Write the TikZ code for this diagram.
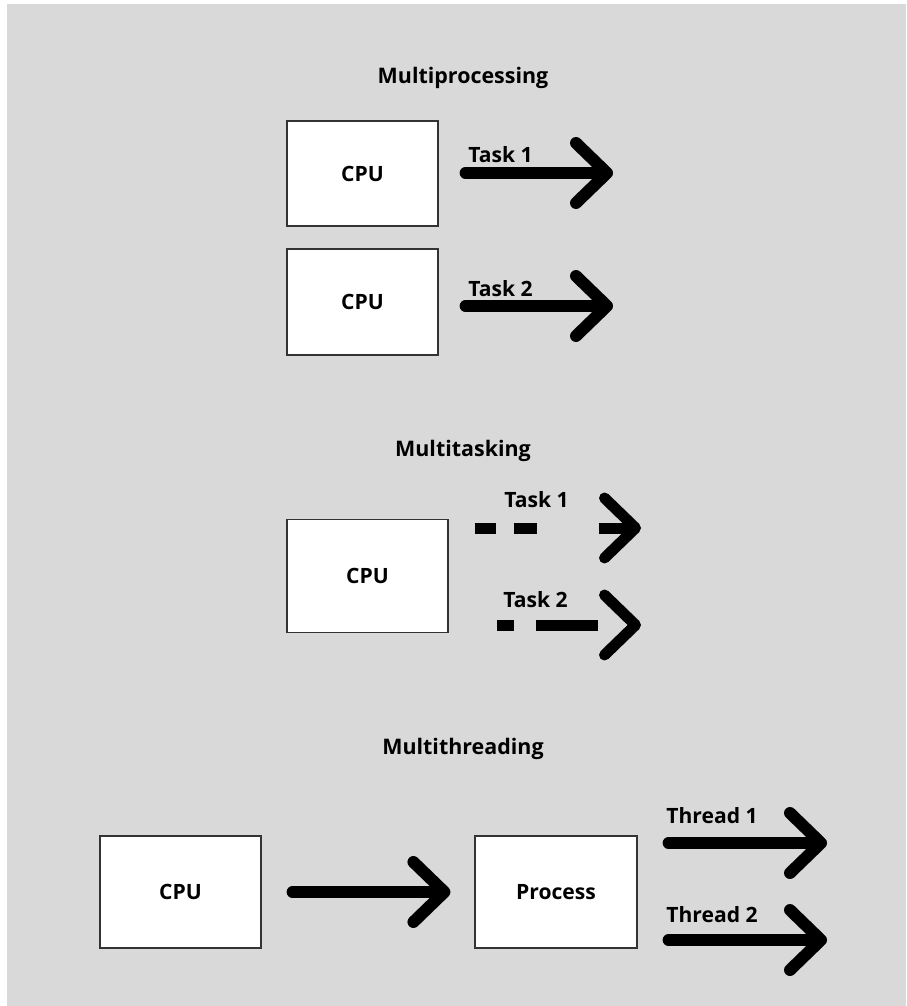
\documentclass[tikz,border=0pt]{standalone}
\usepackage{fontspec}
\setmainfont{Open Sans}
\usetikzlibrary{arrows.meta}
\definecolor{fondoGris}{HTML}{D9D9D9}
\definecolor{bordeCaja}{HTML}{333333}

\tikzset{
    caja/.style={
        draw=bordeCaja,
        fill=white,
        line width=0.7pt,
        inner sep=0pt,
        font=\fontsize{12}{14}\selectfont\bfseries
    },
    titulo/.style={
        inner sep=0pt,
        font=\fontsize{12.2}{15}\selectfont\bfseries
    },
    etiqueta/.style={
        anchor=west,
        inner sep=0pt,
        font=\fontsize{12}{14}\selectfont\bfseries
    },
    flecha/.style={
        line width=0.24cm,
        line cap=round,
        -{Straight Barb[length=0.62cm, width=1.2cm, round]}
    },
    flechapunteada/.style={
        line width=0.22cm,
        line cap=butt,
        -{Straight Barb[length=0.62cm, width=1.2cm, round]}
    }
}

\begin{document}
\begin{tikzpicture}[x=0.02cm, y=-0.02cm]

        % Contenedor principal
        \useasboundingbox (0,0) rectangle (906,1006);
        \fill[fondoGris] (7,4) rectangle (906,1006);

        % =====================================================
        % MULTIPROCESSING
        % =====================================================

        \node[titulo] (tituloMP) at (463,78) {Multiprocessing};

        % CPUs
        \node[
            caja,
            minimum width=3.02cm,
            minimum height=2.1cm
        ] (mpCPUa) at (362.5,173.5) {CPU};

        \node[
            caja,
            minimum width=3.02cm,
            minimum height=2.12cm
        ] (mpCPUb) at (362.5,302) {CPU};

        % Tareas
        \coordinate (mpFinA) at (613,173);
        \coordinate (mpFinB) at (613,306);

        \draw[flecha, shorten <=0.54cm] (mpCPUa.east |- mpFinA) -- (mpFinA);
        \draw[flecha, shorten <=0.54cm] (mpCPUb.east |- mpFinB) -- (mpFinB);

        \node[etiqueta] (mpTaskA) at (468,154.5) {Task 1};
        \node[etiqueta] (mpTaskB) at (468,288.5) {Task 2};

        % =====================================================
        % MULTITASKING
        % =====================================================

        \node[titulo] (tituloMT) at (463,451) {Multitasking};

        % CPU
        \node[
            caja,
            minimum width=3.22cm,
            minimum height=2.26cm
        ] (mtCPU) at (367.5,576) {CPU};

        % Tareas intercaladas
        \coordinate (mtFinA) at (641,528);
        \coordinate (mtFinB) at (641,625);

        \draw[
            flechapunteada,
            shorten <=0.52cm,
            dash pattern=on 0.42cm off 0.36cm on 0.46cm off 1.24cm on 4cm off 1cm
        ] (mtCPU.east |- mtFinA) -- (mtFinA);

        \draw[
            flechapunteada,
            shorten <=0.96cm,
            dash pattern=on 0.34cm off 0.44cm on 1.24cm off 4cm
        ] (mtCPU.east |- mtFinB) -- (mtFinB);

        \node[etiqueta] (mtTaskA) at (504,500) {Task 1};
        \node[etiqueta] (mtTaskB) at (503,600) {Task 2};

        % =====================================================
        % MULTITHREADING
        % =====================================================

        \node[titulo] (tituloMH) at (463,749) {Multithreading};

        % CPU y proceso
        \node[
            caja,
            minimum width=3.22cm,
            minimum height=2.24cm
        ] (mhCPU) at (180.5,892) {CPU};

        \node[
            caja,
            minimum width=3.24cm,
            minimum height=2.24cm
        ] (mhProceso) at (556,892) {Process};

        \draw[flecha, shorten <=0.62cm, shorten >=0.48cm] (mhCPU) -- (mhProceso);

        % Hilos
        \coordinate (mhFinA) at (827,843);
        \coordinate (mhFinB) at (827,940);

        \draw[flecha, shorten <=0.62cm] (mhProceso.east |- mhFinA) -- (mhFinA);
        \draw[flecha, shorten <=0.62cm] (mhProceso.east |- mhFinB) -- (mhFinB);

        \node[etiqueta] (mhThreadA) at (666,816) {Thread 1};
        \node[etiqueta] (mhThreadB) at (666,914.5) {Thread 2};

\end{tikzpicture}
\end{document}
